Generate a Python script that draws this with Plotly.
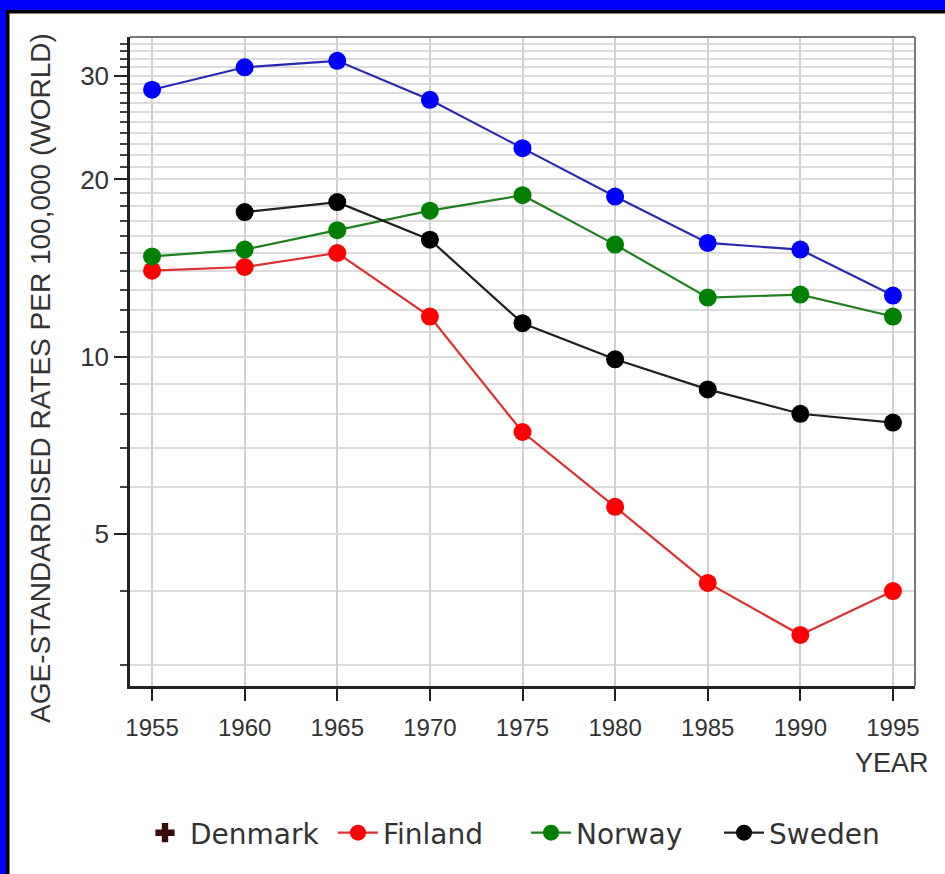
import plotly.graph_objects as go

# ---- data ----
years = [1955, 1960, 1965, 1970, 1975, 1980, 1985, 1990, 1995]
denmark = [28.4, 31.0, 31.8, 27.3, 22.6, 18.7, 15.6, 15.2, 12.7]
finland = [14.0, 14.2, 15.0, 11.7, 7.45, 5.56, 4.13, 3.37, 4.0]
norway = [14.8, 15.2, 16.4, 17.7, 18.8, 15.5, 12.6, 12.75, 11.7]
sweden_years = [1960, 1965, 1970, 1975, 1980, 1985, 1990, 1995]
sweden = [17.6, 18.3, 15.8, 11.4, 9.9, 8.8, 8.0, 7.73]

y_major = [5, 10, 20, 30]
y_minor = [3, 4, 6, 7, 8, 9] + list(range(11, 20)) + list(range(21, 30)) + [31, 32, 33, 34]
x_ticks = years

W, H = 945, 874
L, R, T, B = 130, 915, 37, 686


def px(x):
    return (x - L) / (R - L)


def py(y):
    return (B - y) / (B - T)


fig = go.Figure()

line_w = 2.2
msize = 18

fig.add_trace(go.Scatter(x=years, y=denmark, name="Denmark", mode="lines+markers",
                         line=dict(color="#2a2ab0", width=line_w),
                         marker=dict(color="#0000ff", size=msize), showlegend=False))
# legend entry for Denmark as in the reference (cross symbols)
fig.add_trace(go.Scatter(x=[None], y=[None], name="Denmark", mode="markers",
                         marker=dict(color="#3a0a0a", size=18, symbol="cross")))
fig.add_trace(go.Scatter(x=years, y=finland, name="Finland", mode="lines+markers",
                         line=dict(color="#dd3030", width=line_w),
                         marker=dict(color="#ff0000", size=msize)))
fig.add_trace(go.Scatter(x=years, y=norway, name="Norway", mode="lines+markers",
                         line=dict(color="#208020", width=line_w),
                         marker=dict(color="#008000", size=msize)))
fig.add_trace(go.Scatter(x=sweden_years, y=sweden, name="Sweden", mode="lines+markers",
                         line=dict(color="#202020", width=line_w),
                         marker=dict(color="#000000", size=msize)))

tick_font = dict(family="Liberation Sans Narrow, Arial Narrow, Liberation Sans, sans-serif",
                 size=24, color="#333333")

fig.update_xaxes(range=[1953.81, 1996.19], tickvals=x_ticks, ticks="outside", ticklen=12,
                 tickwidth=2, tickcolor="#222", showline=True, linecolor="#222", linewidth=2.5,
                 showgrid=True, gridcolor="#d0d0d0", gridwidth=1.5, zeroline=False,
                 tickfont=tick_font, ticklabelstandoff=6)
fig.update_yaxes(type="log", range=[0.4409, 1.5428], tickvals=y_major,
                 ticktext=[str(v) for v in y_major], ticks="outside", ticklen=13, tickwidth=2,
                 tickcolor="#222", showline=True, linecolor="#222", linewidth=2.5,
                 showgrid=True, gridcolor="#dcdcdc", gridwidth=2, zeroline=False,
                 tickfont=dict(tick_font, size=26),
                 minor=dict(tickmode="array", tickvals=y_minor, ticks="outside", ticklen=7,
                            tickwidth=2, tickcolor="#444", showgrid=True,
                            gridcolor="#dcdcdc", gridwidth=2))

shapes = [
    # top and right frame lines (grey)
    dict(type="line", xref="paper", yref="paper", x0=0, x1=1, y0=1, y1=1,
         line=dict(color="#777777", width=2)),
    dict(type="line", xref="paper", yref="paper", x0=1, x1=1, y0=0, y1=1,
         line=dict(color="#777777", width=2)),
    # blue border at left and top
    dict(type="rect", xref="paper", yref="paper", x0=px(0), x1=px(6), y0=py(H), y1=py(0),
         fillcolor="#0000ff", line=dict(width=0)),
    dict(type="rect", xref="paper", yref="paper", x0=px(0), x1=px(W), y0=py(10), y1=py(0),
         fillcolor="#0000ff", line=dict(width=0)),
    # black inner edge
    dict(type="rect", xref="paper", yref="paper", x0=px(6), x1=px(9.5), y0=py(H), y1=py(10),
         fillcolor="#000000", line=dict(width=0)),
    dict(type="rect", xref="paper", yref="paper", x0=px(6), x1=px(W), y0=py(13.5), y1=py(10),
         fillcolor="#000000", line=dict(width=0)),
]

fig.update_layout(
    width=W, height=H,
    margin=dict(l=L, r=W - R, t=T, b=H - B, autoexpand=False),
    paper_bgcolor="white", plot_bgcolor="white",
    shapes=shapes,
    annotations=[
        dict(text="YEAR", xref="paper", yref="paper", x=px(931), y=py(763),
             xanchor="right", yanchor="middle", showarrow=False,
             font=dict(family="Liberation Sans, Arial, sans-serif", size=27, color="#333333")),
        dict(text="AGE-STANDARDISED RATES PER 100,000 (WORLD)", xref="paper", yref="paper",
             x=px(41), y=py(378), xanchor="center", yanchor="middle", textangle=-90,
             showarrow=False,
             font=dict(family="Liberation Sans, Arial, sans-serif", size=28, color="#333333")),
    ],
    legend=dict(orientation="h", x=px(526), xanchor="center", y=py(833), yanchor="middle",
                font=dict(family="DejaVu Sans, sans-serif", size=28, color="#333333"),
                itemwidth=40, entrywidth=138, entrywidthmode="pixels",
                traceorder="normal", bgcolor="rgba(0,0,0,0)"),
)

fig.write_html("out.html", config={"displayModeBar": False},
               post_script="document.body.style.margin='0';document.body.style.overflow='hidden';")
